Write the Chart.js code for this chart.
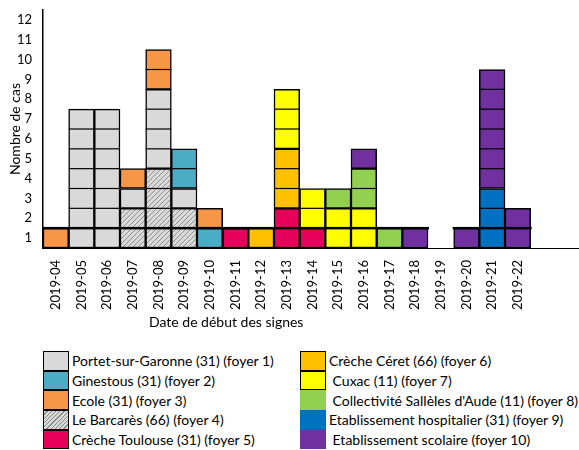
<!DOCTYPE html>
<html>
<head>
<meta charset="utf-8">
<script src="https://cdn.jsdelivr.net/npm/chart.js@4.4.0/dist/chart.umd.min.js"></script>
<style>
  body { margin: 0; background: #fff; font-family: Lato, sans-serif; }
  #wrap { position: relative; width: 579px; height: 450px; overflow: hidden; }
  #chartBox { position: absolute; left: 0; top: 0; width: 583px; height: 335px; }
  #xTitle { position: absolute; left: 149px; top: 313px; font-size: 14px; color: #000; white-space: nowrap; }
  #legend { position: absolute; left: 43px; top: 351px; display: grid;
            grid-template-columns: 257px 280px; grid-auto-flow: column; grid-template-rows: repeat(5, 19.7px); }
  .item { display: flex; align-items: center; font-size: 14px; color: #000; white-space: nowrap; }
  .sw { width: 26px; height: 19.7px; box-sizing: border-box; margin-right: 3px; flex: none; }
</style>
</head>
<body>
<div id="wrap">
  <div id="chartBox"><canvas id="epiChart"></canvas></div>
  <div id="xTitle">Date de début des signes</div>
  <div id="legend"></div>
</div>
<script>
const weeks = ["2019-04","2019-05","2019-06","2019-07","2019-08","2019-09","2019-10","2019-11","2019-12","2019-13",
  "2019-14","2019-15","2019-16","2019-17","2019-18","2019-19","2019-20","2019-21","2019-22","",""];
const yTicks = [1,2,3,4,5,6,7,8,9,10,11,12];

// cases per week, one array per cluster (stacking order bottom -> top)
const barcares   = [0,0,0,2,4,2,0,0,0,0,0,0,0,0,0,0,0,0,0,0,0];
const portet     = [0,7,7,1,4,1,0,0,0,0,0,0,0,0,0,0,0,0,0,0,0];
const ginestous  = [0,0,0,0,0,2,1,0,0,0,0,0,0,0,0,0,0,0,0,0,0];
const ecole      = [1,0,0,1,2,0,1,0,0,0,0,0,0,0,0,0,0,0,0,0,0];
const toulouse   = [0,0,0,0,0,0,0,1,0,2,1,0,0,0,0,0,0,0,0,0,0];
const ceret      = [0,0,0,0,0,0,0,0,1,3,0,0,0,0,0,0,0,0,0,0,0];
const cuxac      = [0,0,0,0,0,0,0,0,0,3,2,2,2,0,0,0,0,0,0,0,0];
const salleles   = [0,0,0,0,0,0,0,0,0,0,0,1,2,1,0,0,0,0,0,0,0];
const hospitalier= [0,0,0,0,0,0,0,0,0,0,0,0,0,0,0,0,0,3,0,0,0];
const scolaire   = [0,0,0,0,0,0,0,0,0,0,0,0,1,0,1,0,1,6,2,0,0];

function hatch() {
  const c = document.createElement("canvas");
  c.width = 5; c.height = 5;
  const g = c.getContext("2d");
  g.fillStyle = "#d9d9d9"; g.fillRect(0, 0, 5, 5);
  g.strokeStyle = "#7f7f7f"; g.lineWidth = 0.8;
  g.beginPath();
  g.moveTo(0, 5); g.lineTo(5, 0);
  g.moveTo(-1, 1); g.lineTo(1, -1);
  g.moveTo(4, 6); g.lineTo(6, 4);
  g.stroke();
  return g.createPattern(c, "repeat");
}
const hatchFill = hatch();

const series = [
  { label: "Le Barcarès (66) (foyer 4)", data: barcares, color: hatchFill, swatch: "repeating-linear-gradient(135deg,#d9d9d9 0 2px,#8a8a8a 2px 3px)", pos: 3 },
  { label: "Portet-sur-Garonne (31) (foyer 1)", data: portet, color: "#d9d9d9", pos: 0 },
  { label: "Ginestous (31) (foyer 2)", data: ginestous, color: "#4bacc6", pos: 1 },
  { label: "Ecole (31) (foyer 3)", data: ecole, color: "#f79646", pos: 2 },
  { label: "Crèche Toulouse (31) (foyer 5)", data: toulouse, color: "#e6005a", pos: 4 },
  { label: "Crèche Céret (66) (foyer 6)", data: ceret, color: "#ffc000", pos: 5 },
  { label: " Cuxac (11) (foyer 7)", data: cuxac, color: "#ffff00", pos: 6 },
  { label: " Collectivité Sallèles d'Aude (11) (foyer 8)", data: salleles, color: "#92d050", pos: 7 },
  { label: "Etablissement hospitalier (31) (foyer 9)", data: hospitalier, color: "#0070c0", pos: 8 },
  { label: " Etablissement scolaire (foyer 10)", data: scolaire, color: "#7030a0", pos: 9 }
];

// one box per case: draw the separators inside each stacked segment
const caseLines = {
  id: "caseLines",
  afterDatasetsDraw(chart) {
    const ctx = chart.ctx, y = chart.scales.y;
    ctx.save();
    ctx.strokeStyle = "#000";
    chart.data.datasets.forEach((ds, d) => {
      chart.getDatasetMeta(d).data.forEach((bar, i) => {
        const v = ds.data[i];
        if (!v) return;
        let base = 0;
        for (let k = 0; k < d; k++) base += chart.data.datasets[k].data[i];
        for (let j = 1; j < v; j++) {
          const py = y.getPixelForValue(base + j);
          ctx.lineWidth = 1.2;
          ctx.beginPath();
          ctx.moveTo(bar.x - bar.width / 2, py);
          ctx.lineTo(bar.x + bar.width / 2, py);
          ctx.stroke();
        }
      });
    });
    // thicker line on top of the first row
    const n = chart.data.labels.length;
    const meta = chart.getDatasetMeta(0);
    for (let i = 0; i < n; i++) {
      const tot = chart.data.datasets.reduce((s, ds) => s + ds.data[i], 0);
      if (!tot) continue;
      const bar = meta.data[i];
      const py = y.getPixelForValue(1);
      ctx.lineWidth = 2.5;
      ctx.beginPath();
      ctx.moveTo(bar.x - bar.width / 2 - 1, py);
      ctx.lineTo(bar.x + bar.width / 2 + 1, py);
      ctx.stroke();
    }
    ctx.restore();
  }
};

const chart = new Chart(document.getElementById("epiChart"), {
  type: "bar",
  data: {
    labels: weeks,
    datasets: series.map(s => ({
      label: s.label.trim(),
      data: s.data,
      backgroundColor: s.color,
      borderColor: "#000",
      borderWidth: 1.5,
      borderSkipped: false,
      barPercentage: 1,
      categoryPercentage: 1
    }))
  },
  options: {
    responsive: true,
    maintainAspectRatio: false,
    animation: false,
    layout: { padding: { top: 10, right: 1, bottom: 0, left: 0 } },
    plugins: { legend: { display: false }, tooltip: { enabled: false } },
    scales: {
      x: {
        stacked: true,
        grid: { display: false },
        border: { display: true, color: "#000", width: 1 },
        ticks: { color: "#000", font: { family: "Lato", size: 13 }, minRotation: 90, maxRotation: 90, autoSkip: false, padding: 4 },
        afterFit(scale) { scale.height = 87; scale.paddingLeft = 0; scale.paddingRight = 0; }
      },
      y: {
        stacked: true,
        min: 0,
        max: 12,
        grid: { display: false },
        border: { display: true, color: "#000", width: 1.5 },
        afterBuildTicks(scale) { scale.ticks = yTicks.map(v => ({ value: v - 0.5 })); },
        ticks: { color: "#000", font: { family: "Lato", size: 13 }, padding: 3, callback: v => v + 0.5 },
        title: { display: true, text: "Nombre de cas", color: "#000", font: { family: "Lato", size: 14 }, padding: { top: 7, bottom: 0 } },
        afterFit(scale) { scale.width = 43; scale.paddingTop = 0; scale.paddingBottom = 0; }
      }
    }
  },
  plugins: [caseLines]
});

// legend in two columns, built from the chart datasets
const legendEl = document.getElementById("legend");
series.slice().sort((a, b) => a.pos - b.pos).forEach(s => {
  const item = document.createElement("div");
  item.className = "item";
  const sw = document.createElement("span");
  sw.className = "sw";
  sw.style.background = s.swatch || s.color;
  if (s.pos < 7) sw.style.border = "1.5px solid #000";
  item.appendChild(sw);
  const txt = document.createElement("span");
  txt.style.whiteSpace = "pre";
  txt.textContent = s.label;
  item.appendChild(txt);
  legendEl.appendChild(item);
});
</script>
</body>
</html>
